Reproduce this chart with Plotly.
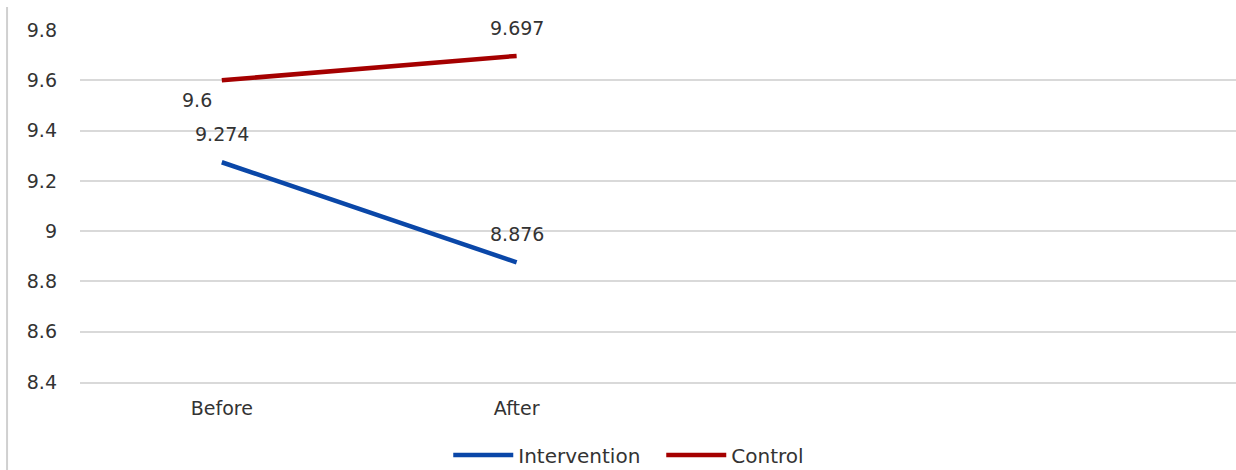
import plotly.graph_objects as go

# Mean scores at the two measurement points
phases = ["Before", "After"]
intervention = [9.274, 8.876]
control = [9.6, 9.697]

y_ticks = [8.4, 8.6, 8.8, 9, 9.2, 9.4, 9.6, 9.8]
y_tick_text = ["8.4", "8.6", "8.8", "9", "9.2", "9.4", "9.6", "9.8"]

BLUE = "#0A47A8"
RED = "#A50000"
TEXT = "#333333"
GRID = "#d9d9d9"
FONT = "DejaVu Sans"

x_pos = list(range(len(phases)))

fig = go.Figure()
fig.add_trace(go.Scatter(
    x=x_pos, y=intervention, name="Intervention", mode="lines",
    line=dict(color=BLUE, width=4.5), cliponaxis=False,
))
fig.add_trace(go.Scatter(
    x=x_pos, y=control, name="Control", mode="lines",
    line=dict(color=RED, width=4.5), cliponaxis=False,
))

# Value labels next to each point
label_offsets = {
    "Intervention": [(0, 28), (0, 28)],
    "Control": [(-25, -20), (0, 28)],
}
for name, values in (("Intervention", intervention), ("Control", control)):
    for i, v in enumerate(values):
        dx, dy = label_offsets[name][i]
        fig.add_annotation(
            x=x_pos[i], y=v, xref="x", yref="y", text=f"{v:g}",
            showarrow=False, xshift=dx, yshift=dy,
            font=dict(family=FONT, size=19, color=TEXT),
        )

# Thin frame edge on the left
fig.add_shape(
    type="line", xref="paper", yref="paper",
    x0=-0.0631, x1=-0.0631, y0=1.065, y1=-0.26,
    line=dict(color="#d0d0d0", width=2),
)

fig.update_layout(
    width=1236, height=470,
    margin=dict(l=80, r=0, t=30, b=88),
    paper_bgcolor="white", plot_bgcolor="white",
    font=dict(family=FONT, size=19, color=TEXT),
    showlegend=True,
    legend=dict(
        orientation="h", xref="container", yref="container",
        x=0.535, xanchor="center", y=0.032, yanchor="middle",
        font=dict(family=FONT, size=20, color=TEXT),
        itemwidth=60, entrywidth=138, entrywidthmode="pixels",
        tracegroupgap=0,
    ),
)
fig.update_xaxes(
    range=[-0.481, 3.44], tickvals=x_pos, ticktext=phases,
    showgrid=False, zeroline=False,
    showline=True, linecolor=GRID, linewidth=1.5,
    ticklabelstandoff=8,
    tickfont=dict(family=FONT, size=19, color=TEXT),
)
fig.update_yaxes(
    range=[8.4, 9.8], tickvals=y_ticks, ticktext=y_tick_text,
    showgrid=True, gridcolor=GRID, gridwidth=1.5,
    zeroline=False, showline=False, ticklabelstandoff=22,
    tickfont=dict(family=FONT, size=19, color=TEXT),
)

fig.write_html("out.html")
